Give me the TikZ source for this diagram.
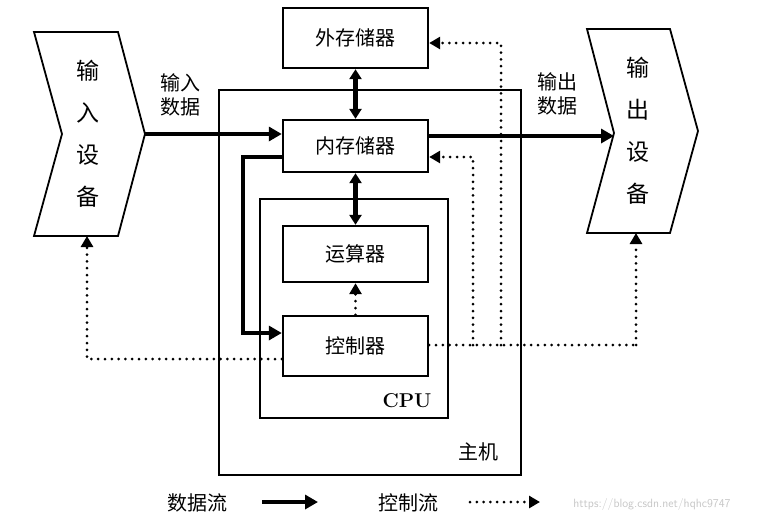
\documentclass[tikz,border=0pt]{standalone}
\usepackage{fontspec}
\newfontfamily\cjk{Noto Sans CJK SC}
\usetikzlibrary{arrows.meta}
\begin{document}
\begin{tikzpicture}[x=1pt,y=-1pt,
  box/.style={draw,line width=2.4pt,inner sep=0},
  lbl/.style={font=\cjk\fontsize{20}{24}\selectfont},
  big/.style={font=\cjk\fontsize{23}{42}\selectfont},
  data/.style={line width=4.5pt,-{Triangle[length=13pt,width=14pt]}},
  dbl/.style={line width=4.5pt,{Triangle[length=10pt,width=12pt]}-{Triangle[length=10pt,width=12pt]}},
  ctl/.style={line width=3pt,line cap=round,dash pattern=on 0pt off 6.8pt},
  ctrl/.style={ctl,-{Triangle[length=11pt,width=12pt]}}]
\useasboundingbox (0,0) rectangle (767,523);
% devices
\draw[line width=1.8pt] (34,32)--(118,32)--(145,134)--(118,236)--(34,236)--(62,134)--cycle;
\coordinate (inR) at (145,134); \coordinate (inB) at (88,236);
\node[big,align=center] (inT) at (88,134) {输\\入\\设\\备};
\draw[line width=1.8pt] (587,29)--(670,29)--(698,131)--(670,233)--(587,233)--(614,133)--cycle;
\coordinate (outL) at (614,136); \coordinate (outB) at (636,233);
\node[big,align=center] (outT) at (638,131) {输\\出\\设\\备};
% boxes
\draw[line width=2.4pt] (219,90) rectangle (521,475);
\node[lbl] (zj) at (478,452) {主机};
\draw[line width=2.4pt] (260,199) rectangle (448,418);
\node[font=\bfseries\fontsize{20}{24}\selectfont] (cpu) at (407,401) {CPU};
\node[box,lbl,minimum width=145pt,minimum height=60pt] (wc) at (355.5,38) {外存储器};
\node[box,lbl,minimum width=145pt,minimum height=52pt] (nc) at (355.5,146) {内存储器};
\node[box,lbl,minimum width=145pt,minimum height=56pt] (ys) at (355.5,254) {运算器};
\node[box,lbl,minimum width=145pt,minimum height=60pt] (kz) at (355.5,346) {控制器};
% data flows
\draw[data] (inR) -- (inR -| kz.west);
\node[lbl,align=center] (inD) at (180,95) {输入\\数据};
\draw[data] (nc.east |- outL) -- (outL);
\node[lbl,align=center] (outD) at (557,94) {输出\\数据};
\draw[dbl] (wc.south) -- (nc.north);
\draw[dbl] (nc.south) -- (ys.north);
\draw[line width=4.5pt,-{Triangle[length=13pt,width=14pt]}] (nc.west |- 0,157) -- (243,157) -- (243,333) -- (kz.west |- 0,333);
% control flows
\draw[ctl] (kz.east |- 0,345) -- (636,345);
\draw[ctrl] (636,345) -- (outB);
\draw[ctrl] (501,345) -- (501,43) -- (wc.east |- 0,43);
\draw[ctrl] (473,345) -- (473,157) -- (nc.east |- 0,157);
\draw[ctrl] (kz.west |- 0,359) -- (87,359) -- (inB -| 87,0);
\draw[ctrl] (kz.north) -- (ys.south);
% legend
\node[lbl] (l1) at (197,503) {数据流};
\draw[data] (262,502) -- (318,502);
\node[lbl] (l2) at (408,503) {控制流};
\draw[ctrl] (470,502) -- (540,502);
\node[font=\sffamily\fontsize{12}{14}\selectfont,text=gray!45] (wm) at (652,504) {https://blog.csdn.net/hqhc9747};
\end{tikzpicture}
\end{document}
